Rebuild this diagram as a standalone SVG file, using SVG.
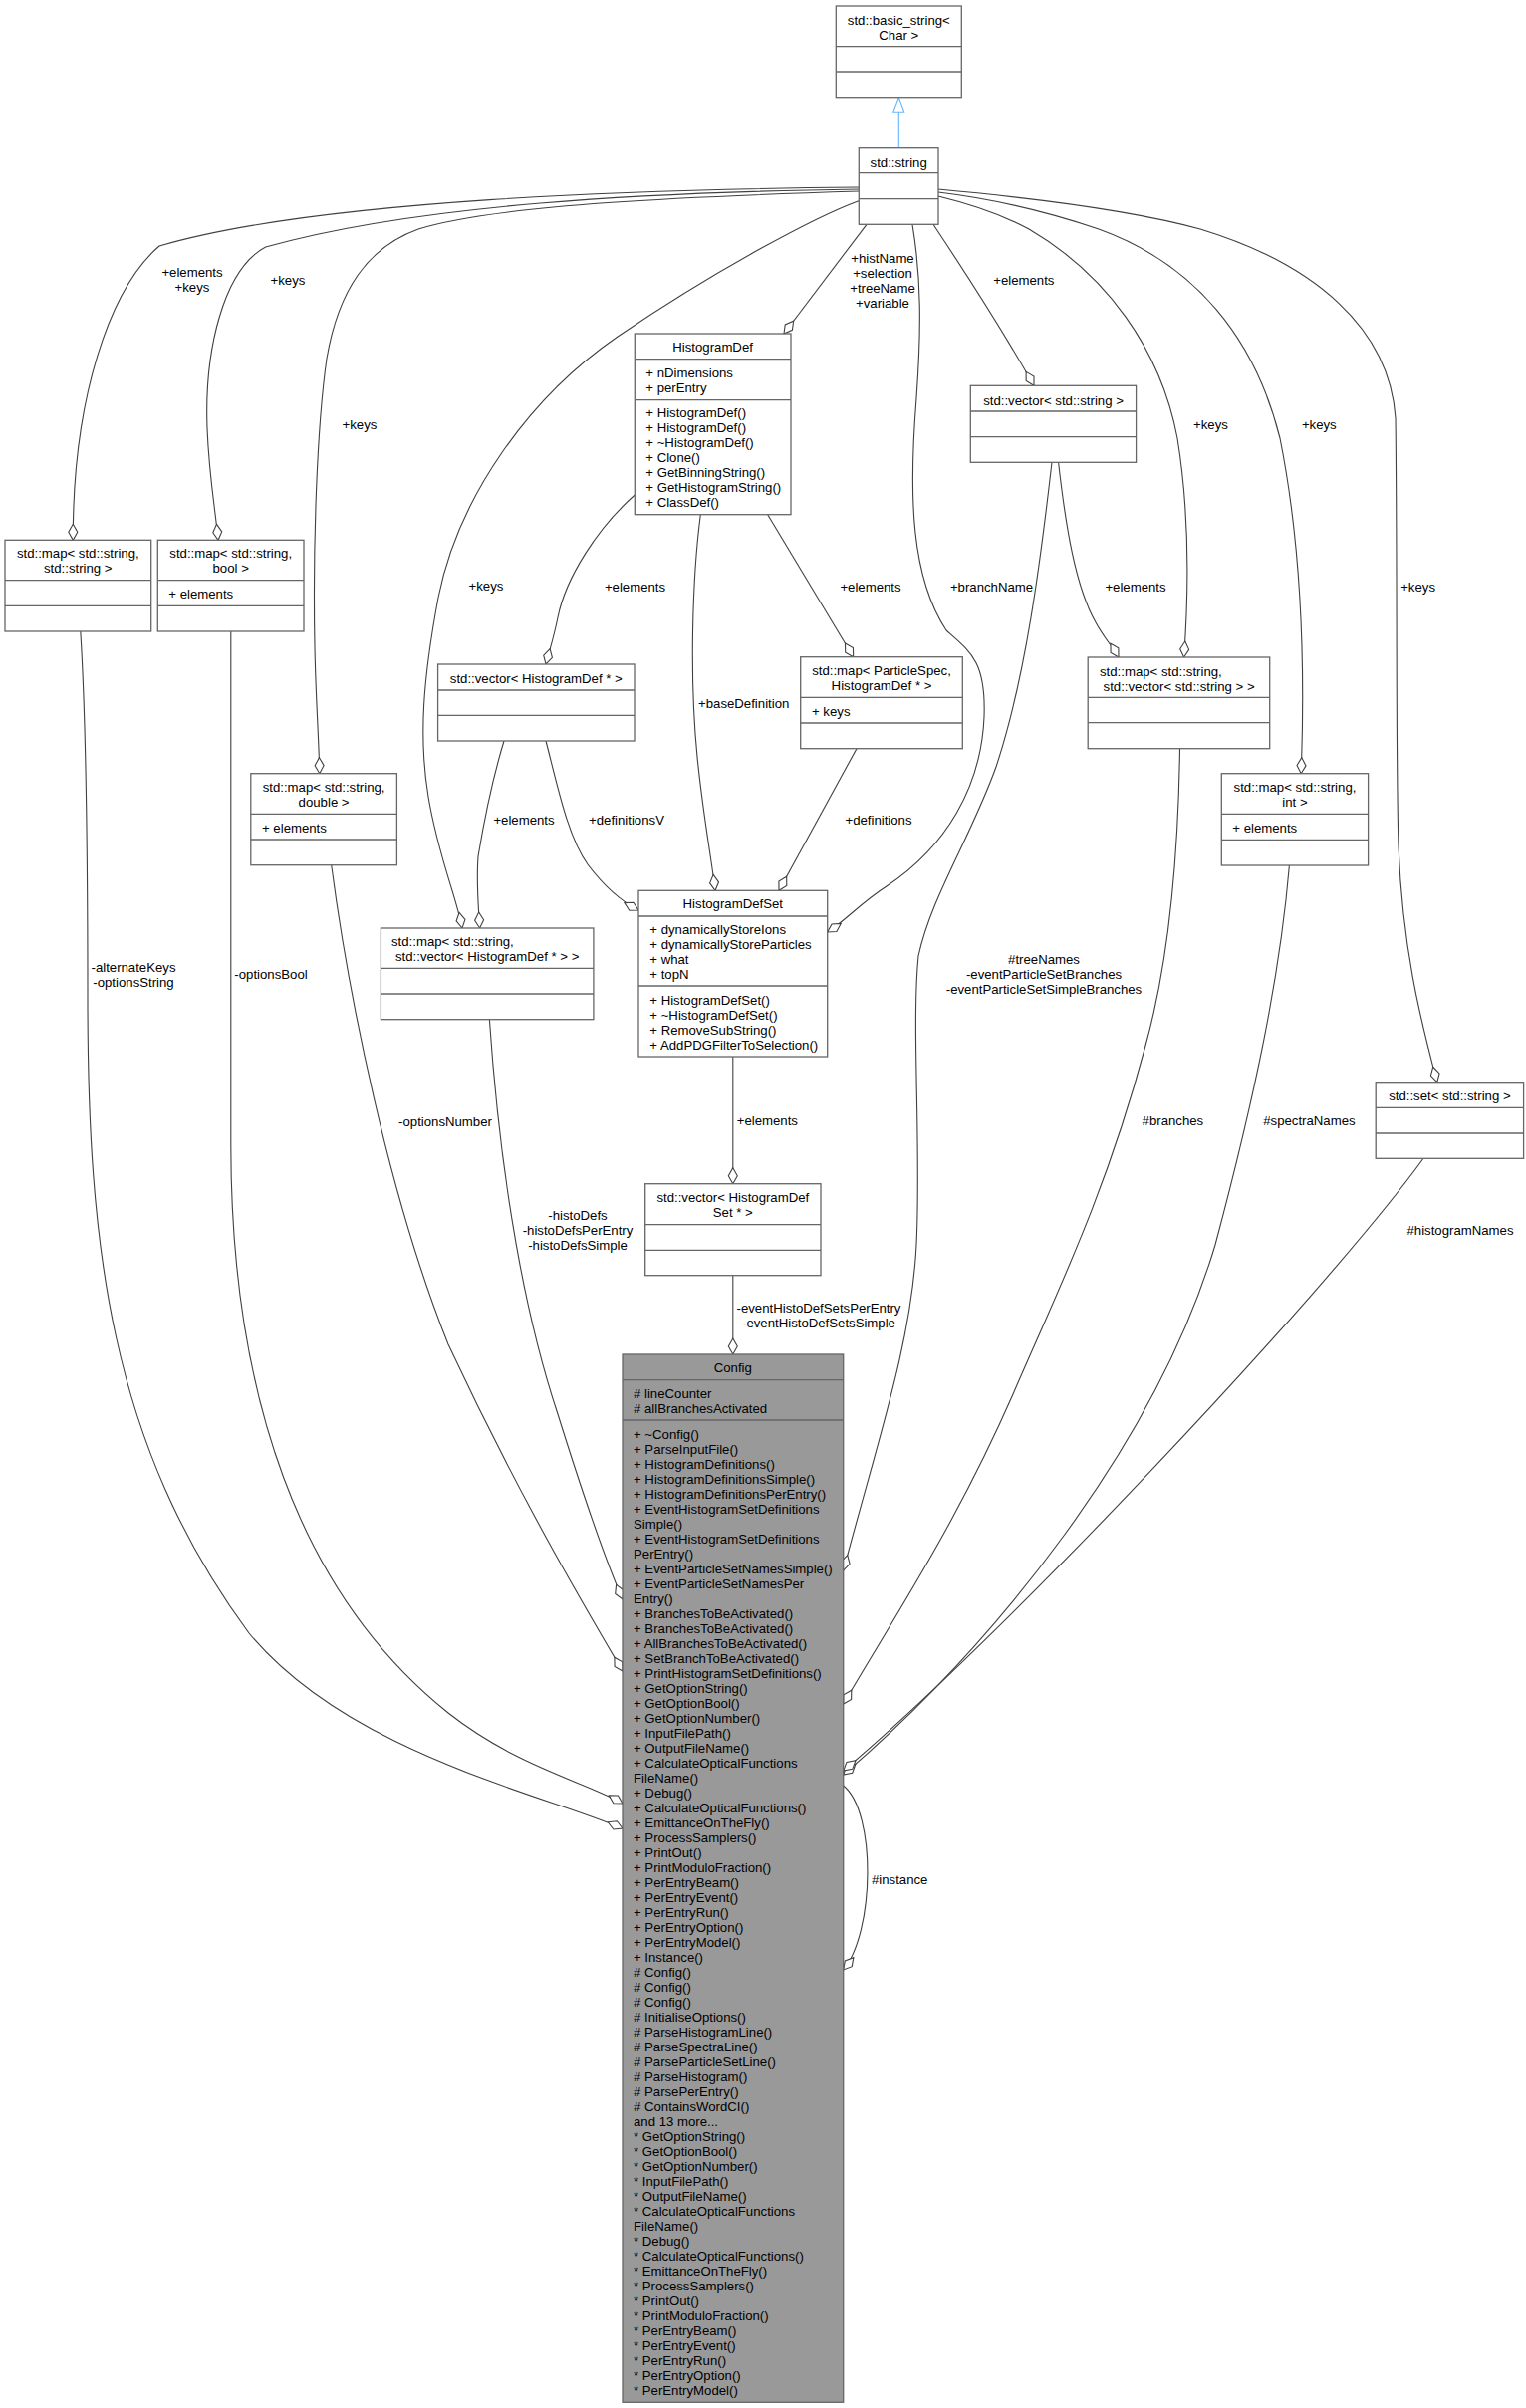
<svg xmlns="http://www.w3.org/2000/svg" width="1532" height="2418" viewBox="0 0 1532 2418">
<style>
.t{font-family:"Liberation Sans",Arial,Helvetica,sans-serif;font-size:13.2px;fill:#000}
.c{text-anchor:middle}
.b{fill:#fff;stroke:#666;stroke-width:1.3}
.cfg{fill:#999;stroke:#666;stroke-width:1.3}
.s{stroke:#666;stroke-width:1.3}
.e{fill:none;stroke:#404040;stroke-width:1.1}
.e{marker-end:url(#od)}
</style>
<defs>
<marker id="od" markerUnits="userSpaceOnUse" markerWidth="20" markerHeight="14" refX="16" refY="5" orient="auto" overflow="visible"><path d="M0,5 L8,0.5 L16,5 L8,9.5 Z" fill="#fff" stroke="#404040" stroke-width="1.1"/></marker>
<marker id="tri" markerUnits="userSpaceOnUse" markerWidth="16" markerHeight="12" refX="14.5" refY="5.5" orient="auto" overflow="visible"><path d="M0,0 L14.5,5.5 L0,11 Z" fill="#fff" stroke="#63b8ff" stroke-width="1.1"/></marker>
</defs>
<rect width="1532" height="2418" fill="#fff"/>
<g id="edges">
<line x1="902.3" y1="148.7" x2="902.3" y2="97.7" stroke="#63b8ff" stroke-width="1.1" marker-end="url(#tri)"/>
<path class="e" d="M862,188 C650,190 320,200 160,247 C110,290 73,400 73.3,542.3"/>
<path class="e" d="M862,190 C650,193 420,205 266.7,248 C225,270 205,350 208,430 C210,480 216,510 219,542.3"/>
<path class="e" d="M862,192 C700,197 500,205 420,230 C370,248 340,290 328,360 C318,430 314,550 316,650 C317,700 320,740 320.8,776.7"/>
<path class="e" d="M870,225.3 L787,335"/>
<path class="e" d="M862,201.7 C820,217 720,270 620,338 C530,400 460,500 440,600 C425,680 420,740 430,800 C440,860 458,900 464,932"/>
<path class="e" d="M637.3,497 C600,530 568,580 560,620 C556,640 552,652 548,667"/>
<path class="e" d="M703.3,516.7 C695,580 692,680 700,760 C706,820 714,860 718,894.3"/>
<path class="e" d="M770.7,516.7 L856.7,659.7"/>
<path class="e" d="M548,744 C560,790 570,840 590,868 C605,888 620,903 641,914"/>
<path class="e" d="M860,751.7 L782,894.3"/>
<path class="e" d="M916,225.3 C925,280 925,330 920,400 C912,500 915,580 950,633 C975,655 990,665 988,720 C985,790 950,850 890,890 C865,906 848,925 830.7,936"/>
<path class="e" d="M937,225.3 C960,260 1000,320 1038,387.3"/>
<path class="e" d="M1062.6,464.3 C1070,530 1080,590 1100,625 C1108,640 1116,648 1123,660"/>
<path class="e" d="M942,197 C975,205 1005,215 1033,230 C1110,275 1165,350 1182,440 C1195,520 1193,600 1188.6,660"/>
<path class="e" d="M942,193 C1000,200 1050,212 1103,230 C1200,265 1260,340 1285,440 C1305,540 1311,650 1306.2,776.7"/>
<path class="e" d="M942,190 C1050,200 1140,212 1205,230 C1320,265 1395,330 1401,420 C1403,560 1401,760 1404,850 C1408,950 1425,1020 1442.8,1086.7"/>
<path class="e" d="M506,744 C495,780 485,830 480,860 C478,885 480,905 481.6,932"/>
<path class="e" d="M735.8,1061 L735.8,1188.7"/>
<path class="e" d="M735.8,1280.7 L735.8,1360"/>
<path class="e" d="M80.8,634 C85,700 88,800 88,1000 C88,1250 110,1450 250,1640 C350,1760 540,1800 625,1836"/>
<path class="e" d="M231.8,634 L231.8,1150 C232,1400 300,1600 450,1720 C520,1775 590,1790 625,1811"/>
<path class="e" d="M332.7,868.7 C350,1000 390,1200 450,1350 C520,1500 585,1610 625,1678"/>
<path class="e" d="M491.4,1023.7 C500,1150 520,1300 560,1420 C585,1500 605,1560 625,1606"/>
<path class="e" d="M1056,464.3 C1045,560 1030,680 1000,770 C975,840 935,900 922,960 C915,1030 925,1150 920,1250 C915,1350 880,1450 846.7,1577"/>
<path class="e" d="M1184.5,751.7 C1183,850 1175,960 1150,1050 C1110,1200 1060,1300 1017,1400 C960,1530 900,1620 846.7,1711"/>
<path class="e" d="M1294.4,869 C1285,980 1260,1100 1220,1250 C1160,1450 1000,1650 846.7,1782"/>
<path class="e" d="M1429,1163.3 C1330,1300 1000,1650 846.7,1778"/>
<path class="e" d="M846.7,1793 C880,1820 878,1940 846.7,1978"/>
</g>
<g id="edge-labels" class="t">
<text class="t c" x="193" y="277.8">+elements</text>
<text class="t c" x="193" y="292.8">+keys</text>
<text class="t c" x="289" y="286.2">+keys</text>
<text class="t c" x="361" y="431.2">+keys</text>
<text class="t c" x="488" y="592.5">+keys</text>
<text class="t c" x="886" y="263.5">+histName</text>
<text class="t c" x="886" y="278.5">+selection</text>
<text class="t c" x="886" y="293.5">+treeName</text>
<text class="t c" x="886" y="308.5">+variable</text>
<text class="t c" x="637.5" y="593.8">+elements</text>
<text class="t c" x="746.7" y="711.2">+baseDefinition</text>
<text class="t c" x="874" y="593.8">+elements</text>
<text class="t c" x="629" y="827.8">+definitionsV</text>
<text class="t c" x="882" y="827.8">+definitions</text>
<text class="t c" x="995.5" y="593.8">+branchName</text>
<text class="t c" x="1027.8" y="286.2">+elements</text>
<text class="t c" x="1140" y="593.8">+elements</text>
<text class="t c" x="1215.5" y="431.2">+keys</text>
<text class="t c" x="1324.3" y="431.2">+keys</text>
<text class="t c" x="1423.6" y="593.8">+keys</text>
<text class="t c" x="526" y="827.8">+elements</text>
<text class="t c" x="770.3" y="1130.2">+elements</text>
<text class="t c" x="822" y="1317.8">-eventHistoDefSetsPerEntry</text>
<text class="t c" x="822" y="1332.8">-eventHistoDefSetsSimple</text>
<text class="t c" x="134" y="976.2">-alternateKeys</text>
<text class="t c" x="134" y="991.2">-optionsString</text>
<text class="t c" x="272" y="982.8">-optionsBool</text>
<text class="t c" x="447" y="1130.5">-optionsNumber</text>
<text class="t c" x="580" y="1225">-histoDefs</text>
<text class="t c" x="580" y="1240">-histoDefsPerEntry</text>
<text class="t c" x="580" y="1255">-histoDefsSimple</text>
<text class="t c" x="1048" y="967.8">#treeNames</text>
<text class="t c" x="1048" y="982.8">-eventParticleSetBranches</text>
<text class="t c" x="1048" y="997.8">-eventParticleSetSimpleBranches</text>
<text class="t c" x="1177.4" y="1130.2">#branches</text>
<text class="t c" x="1314.4" y="1130.2">#spectraNames</text>
<text class="t c" x="1466" y="1239.8">#histogramNames</text>
<text class="t" x="875" y="1892.2">#instance</text>
</g>
<g id="n-basic_string">
<rect class="b" x="839.3" y="6" width="126" height="91.7"/>
<line class="s" x1="839.3" y1="46.7" x2="965.3" y2="46.7"/><line class="s" x1="839.3" y1="72" x2="965.3" y2="72"/>
<text class="t c" x="902.3" y="24.5">std::basic_string&lt;</text>
<text class="t c" x="902.3" y="39.5">Char &gt;</text>
</g>
<g id="n-string">
<rect class="b" x="862.3" y="148.7" width="79.7" height="76.6"/>
<line class="s" x1="862.3" y1="173.7" x2="942" y2="173.7"/><line class="s" x1="862.3" y1="199.7" x2="942" y2="199.7"/>
<text class="t c" x="902.2" y="167.5">std::string</text>
</g>
<g id="n-map-string-string">
<rect class="b" x="5" y="542.3" width="146.7" height="91.7"/>
<line class="s" x1="5" y1="582.7" x2="151.7" y2="582.7"/><line class="s" x1="5" y1="608.3" x2="151.7" y2="608.3"/>
<text class="t c" x="78.3" y="560.2">std::map&lt; std::string,</text>
<text class="t c" x="78.3" y="575.2">std::string &gt;</text>
</g>
<g id="n-map-string-bool">
<rect class="b" x="158.3" y="542.3" width="146.7" height="91.7"/>
<line class="s" x1="158.3" y1="582.7" x2="305" y2="582.7"/><line class="s" x1="158.3" y1="608.3" x2="305" y2="608.3"/>
<text class="t c" x="231.7" y="560.2">std::map&lt; std::string,</text>
<text class="t c" x="231.7" y="575.2">bool &gt;</text>
<text class="t" x="169.3" y="601.2">+ elements</text>
</g>
<g id="n-map-string-double">
<rect class="b" x="251.8" y="776.7" width="146.6" height="92"/>
<line class="s" x1="251.8" y1="817.3" x2="398.4" y2="817.3"/><line class="s" x1="251.8" y1="843" x2="398.4" y2="843"/>
<text class="t c" x="325.1" y="795.2">std::map&lt; std::string,</text>
<text class="t c" x="325.1" y="810.2">double &gt;</text>
<text class="t" x="263" y="836.2">+ elements</text>
</g>
<g id="n-vector-histogramdef">
<rect class="b" x="439.6" y="667" width="197.4" height="77"/>
<line class="s" x1="439.6" y1="693" x2="637" y2="693"/><line class="s" x1="439.6" y1="718.3" x2="637" y2="718.3"/>
<text class="t c" x="538.3" y="685.5">std::vector&lt; HistogramDef * &gt;</text>
</g>
<g id="n-map-string-vector-histogramdef">
<rect class="b" x="382.4" y="932" width="213.5" height="91.7"/>
<line class="s" x1="382.4" y1="972.3" x2="595.9" y2="972.3"/><line class="s" x1="382.4" y1="998" x2="595.9" y2="998"/>
<text class="t" x="393" y="950.2">std::map&lt; std::string,</text>
<text class="t" x="397" y="965.2">std::vector&lt; HistogramDef * &gt; &gt;</text>
</g>
<g id="n-histogramdef">
<rect class="b" x="637.3" y="335" width="156.7" height="181.7"/>
<line class="s" x1="637.3" y1="360.7" x2="794" y2="360.7"/><line class="s" x1="637.3" y1="401.7" x2="794" y2="401.7"/>
<text class="t c" x="715.6" y="352.8">HistogramDef</text>
<text class="t" x="648.3" y="378.8">+ nDimensions</text>
<text class="t" x="648.3" y="393.8">+ perEntry</text>
<text class="t" x="648.3" y="419.2">+ HistogramDef()</text>
<text class="t" x="648.3" y="434.2">+ HistogramDef()</text>
<text class="t" x="648.3" y="449.2">+ ~HistogramDef()</text>
<text class="t" x="648.3" y="464.2">+ Clone()</text>
<text class="t" x="648.3" y="479.2">+ GetBinningString()</text>
<text class="t" x="648.3" y="494.2">+ GetHistogramString()</text>
<text class="t" x="648.3" y="509.2">+ ClassDef()</text>
</g>
<g id="n-map-particlespec">
<rect class="b" x="803.7" y="659.7" width="162.6" height="92"/>
<line class="s" x1="803.7" y1="700.3" x2="966.3" y2="700.3"/><line class="s" x1="803.7" y1="726" x2="966.3" y2="726"/>
<text class="t c" x="885" y="677.8">std::map&lt; ParticleSpec,</text>
<text class="t c" x="885" y="692.8">HistogramDef * &gt;</text>
<text class="t" x="815" y="718.5">+ keys</text>
</g>
<g id="n-histogramdefset">
<rect class="b" x="641" y="894.3" width="189.7" height="166.7"/>
<line class="s" x1="641" y1="920" x2="830.7" y2="920"/><line class="s" x1="641" y1="990" x2="830.7" y2="990"/>
<text class="t c" x="735.8" y="911.8">HistogramDefSet</text>
<text class="t" x="652.3" y="937.8">+ dynamicallyStoreIons</text>
<text class="t" x="652.3" y="952.8">+ dynamicallyStoreParticles</text>
<text class="t" x="652.3" y="967.8">+ what</text>
<text class="t" x="652.3" y="982.8">+ topN</text>
<text class="t" x="652.3" y="1008.8">+ HistogramDefSet()</text>
<text class="t" x="652.3" y="1023.8">+ ~HistogramDefSet()</text>
<text class="t" x="652.3" y="1038.8">+ RemoveSubString()</text>
<text class="t" x="652.3" y="1053.8">+ AddPDGFilterToSelection()</text>
</g>
<g id="n-vector-string">
<rect class="b" x="974.3" y="387.3" width="166.3" height="77"/>
<line class="s" x1="974.3" y1="413" x2="1140.6" y2="413"/><line class="s" x1="974.3" y1="438.7" x2="1140.6" y2="438.7"/>
<text class="t c" x="1057.5" y="406.5">std::vector&lt; std::string &gt;</text>
</g>
<g id="n-map-string-vector-string">
<rect class="b" x="1092.2" y="660" width="182.5" height="91.7"/>
<line class="s" x1="1092.2" y1="700.3" x2="1274.7" y2="700.3"/><line class="s" x1="1092.2" y1="725.7" x2="1274.7" y2="725.7"/>
<text class="t" x="1104" y="678.5">std::map&lt; std::string,</text>
<text class="t" x="1107.6" y="693.5">std::vector&lt; std::string &gt; &gt;</text>
</g>
<g id="n-map-string-int">
<rect class="b" x="1226.3" y="776.7" width="147.3" height="92.3"/>
<line class="s" x1="1226.3" y1="817.3" x2="1373.6" y2="817.3"/><line class="s" x1="1226.3" y1="843.3" x2="1373.6" y2="843.3"/>
<text class="t c" x="1300" y="795.2">std::map&lt; std::string,</text>
<text class="t c" x="1300" y="810.2">int &gt;</text>
<text class="t" x="1237.3" y="836.2">+ elements</text>
</g>
<g id="n-set-string">
<rect class="b" x="1381.2" y="1086.7" width="148.4" height="76.6"/>
<line class="s" x1="1381.2" y1="1112.3" x2="1529.6" y2="1112.3"/><line class="s" x1="1381.2" y1="1138" x2="1529.6" y2="1138"/>
<text class="t c" x="1455.4" y="1105.2">std::set&lt; std::string &gt;</text>
</g>
<g id="n-vector-histogramdefset">
<rect class="b" x="647.7" y="1188.7" width="176.3" height="92"/>
<line class="s" x1="647.7" y1="1229.7" x2="824" y2="1229.7"/><line class="s" x1="647.7" y1="1255.3" x2="824" y2="1255.3"/>
<text class="t c" x="735.8" y="1207.2">std::vector&lt; HistogramDef</text>
<text class="t c" x="735.8" y="1222.2">Set * &gt;</text>
</g>
<g id="n-config">
<rect class="cfg" x="625" y="1360" width="221.7" height="1052.3"/>
<line class="s" x1="625" y1="1385.7" x2="846.7" y2="1385.7"/><line class="s" x1="625" y1="1426" x2="846.7" y2="1426"/>
<text class="t c" x="735.8" y="1377.8">Config</text>
<text class="t" x="636" y="1403.8"># lineCounter</text>
<text class="t" x="636" y="1418.8"># allBranchesActivated</text>
<text class="t" x="636" y="1445.2"><tspan x="636">+ ~Config()</tspan><tspan x="636" dy="15">+ ParseInputFile()</tspan><tspan x="636" dy="15">+ HistogramDefinitions()</tspan><tspan x="636" dy="15">+ HistogramDefinitionsSimple()</tspan><tspan x="636" dy="15">+ HistogramDefinitionsPerEntry()</tspan><tspan x="636" dy="15">+ EventHistogramSetDefinitions</tspan><tspan x="636" dy="15">Simple()</tspan><tspan x="636" dy="15">+ EventHistogramSetDefinitions</tspan><tspan x="636" dy="15">PerEntry()</tspan><tspan x="636" dy="15">+ EventParticleSetNamesSimple()</tspan><tspan x="636" dy="15">+ EventParticleSetNamesPer</tspan><tspan x="636" dy="15">Entry()</tspan><tspan x="636" dy="15">+ BranchesToBeActivated()</tspan><tspan x="636" dy="15">+ BranchesToBeActivated()</tspan><tspan x="636" dy="15">+ AllBranchesToBeActivated()</tspan><tspan x="636" dy="15">+ SetBranchToBeActivated()</tspan><tspan x="636" dy="15">+ PrintHistogramSetDefinitions()</tspan><tspan x="636" dy="15">+ GetOptionString()</tspan><tspan x="636" dy="15">+ GetOptionBool()</tspan><tspan x="636" dy="15">+ GetOptionNumber()</tspan><tspan x="636" dy="15">+ InputFilePath()</tspan><tspan x="636" dy="15">+ OutputFileName()</tspan><tspan x="636" dy="15">+ CalculateOpticalFunctions</tspan><tspan x="636" dy="15">FileName()</tspan><tspan x="636" dy="15">+ Debug()</tspan><tspan x="636" dy="15">+ CalculateOpticalFunctions()</tspan><tspan x="636" dy="15">+ EmittanceOnTheFly()</tspan><tspan x="636" dy="15">+ ProcessSamplers()</tspan><tspan x="636" dy="15">+ PrintOut()</tspan><tspan x="636" dy="15">+ PrintModuloFraction()</tspan><tspan x="636" dy="15">+ PerEntryBeam()</tspan><tspan x="636" dy="15">+ PerEntryEvent()</tspan><tspan x="636" dy="15">+ PerEntryRun()</tspan><tspan x="636" dy="15">+ PerEntryOption()</tspan><tspan x="636" dy="15">+ PerEntryModel()</tspan><tspan x="636" dy="15">+ Instance()</tspan><tspan x="636" dy="15"># Config()</tspan><tspan x="636" dy="15"># Config()</tspan><tspan x="636" dy="15"># Config()</tspan><tspan x="636" dy="15"># InitialiseOptions()</tspan><tspan x="636" dy="15"># ParseHistogramLine()</tspan><tspan x="636" dy="15"># ParseSpectraLine()</tspan><tspan x="636" dy="15"># ParseParticleSetLine()</tspan><tspan x="636" dy="15"># ParseHistogram()</tspan><tspan x="636" dy="15"># ParsePerEntry()</tspan><tspan x="636" dy="15"># ContainsWordCI()</tspan><tspan x="636" dy="15">and 13 more...</tspan><tspan x="636" dy="15">* GetOptionString()</tspan><tspan x="636" dy="15">* GetOptionBool()</tspan><tspan x="636" dy="15">* GetOptionNumber()</tspan><tspan x="636" dy="15">* InputFilePath()</tspan><tspan x="636" dy="15">* OutputFileName()</tspan><tspan x="636" dy="15">* CalculateOpticalFunctions</tspan><tspan x="636" dy="15">FileName()</tspan><tspan x="636" dy="15">* Debug()</tspan><tspan x="636" dy="15">* CalculateOpticalFunctions()</tspan><tspan x="636" dy="15">* EmittanceOnTheFly()</tspan><tspan x="636" dy="15">* ProcessSamplers()</tspan><tspan x="636" dy="15">* PrintOut()</tspan><tspan x="636" dy="15">* PrintModuloFraction()</tspan><tspan x="636" dy="15">* PerEntryBeam()</tspan><tspan x="636" dy="15">* PerEntryEvent()</tspan><tspan x="636" dy="15">* PerEntryRun()</tspan><tspan x="636" dy="15">* PerEntryOption()</tspan><tspan x="636" dy="15">* PerEntryModel()</tspan></text>
</g>
</svg>
